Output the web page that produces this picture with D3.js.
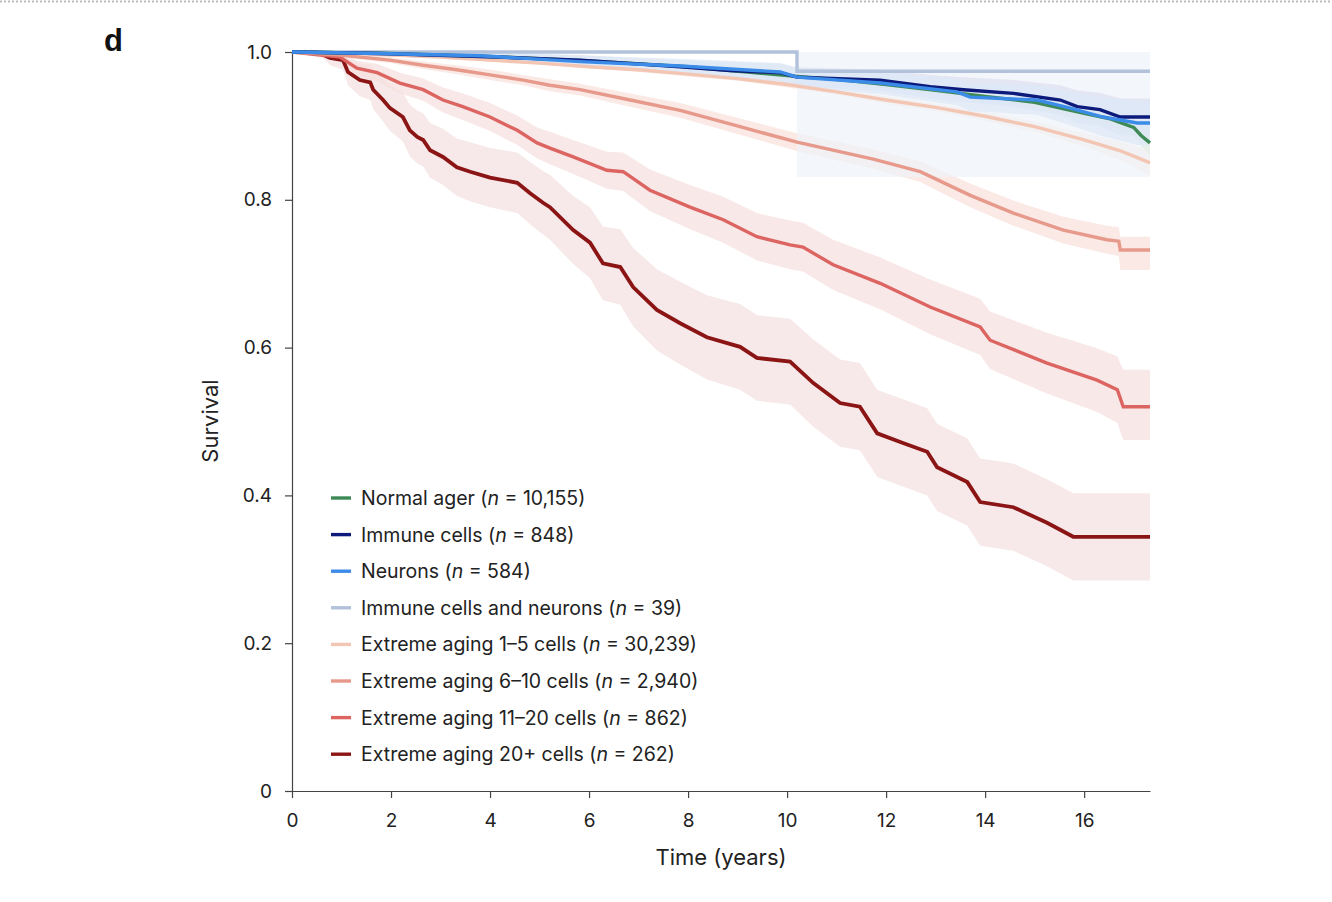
<!DOCTYPE html>
<html>
<head>
<meta charset="utf-8">
<script src="https://cdn.jsdelivr.net/npm/d3@7"></script>
<style>
  body { margin: 0; background: #fff; }
  svg { display: block; font-family: "Inter", "Open Sans", sans-serif; }
</style>
</head>
<body>
<svg id="chart" width="1332" height="902"></svg>
<script>
const FRAME_WIDTH = 1332;
const FRAME_HEIGHT = 902;
const PLOT = {left: 292, right: 1150, top: 52, bottom: 791};

// rows: [time (years), survival, lower CI, upper CI]
const NORMAL = [
  [0, 1, 1, 1], [2, 0.998, 0.997, 0.999], [4, 0.994, 0.992, 0.996], [6, 0.988, 0.986, 0.990],
  [8, 0.980, 0.977, 0.983], [10, 0.968, 0.964, 0.972], [11, 0.963, 0.959, 0.967],
  [12, 0.956, 0.951, 0.961], [13, 0.948, 0.943, 0.953], [14, 0.940, 0.934, 0.946],
  [15, 0.932, 0.925, 0.939], [16, 0.917, 0.908, 0.926], [16.5, 0.910, 0.900, 0.920],
  [17.0, 0.898, 0.886, 0.910], [17.15, 0.887, 0.873, 0.901], [17.33, 0.877, 0.861, 0.893]
];
const IMMUNE = [
  [0, 1, 1, 1], [1.78, 0.998, 0.995, 1], [3.80, 0.994, 0.989, 0.999], [5.82, 0.989, 0.982, 0.996],
  [7.84, 0.980, 0.971, 0.989], [8.85, 0.975, 0.964, 0.986], [9.86, 0.972, 0.960, 0.984],
  [10.20, 0.966, 0.953, 0.979], [11.88, 0.962, 0.948, 0.976], [12.89, 0.953, 0.937, 0.969],
  [13.56, 0.949, 0.932, 0.966], [14.57, 0.944, 0.926, 0.962], [15.52, 0.935, 0.915, 0.955],
  [15.86, 0.926, 0.904, 0.948], [16.32, 0.922, 0.899, 0.945], [16.73, 0.912, 0.887, 0.937],
  [17.33, 0.912, 0.887, 0.937]
];
const NEURONS = [
  [0, 1, 1, 1], [1.78, 0.998, 0.995, 1], [3.80, 0.995, 0.990, 1], [5.82, 0.987, 0.979, 0.995],
  [7.84, 0.981, 0.971, 0.991], [9.86, 0.973, 0.961, 0.985], [10.20, 0.966, 0.953, 0.979],
  [11.88, 0.958, 0.943, 0.973], [13.43, 0.946, 0.928, 0.964], [13.70, 0.939, 0.920, 0.958],
  [15.05, 0.935, 0.915, 0.955], [15.72, 0.924, 0.901, 0.947], [16.38, 0.912, 0.886, 0.938],
  [16.73, 0.908, 0.880, 0.936], [17.07, 0.904, 0.874, 0.934], [17.33, 0.904, 0.874, 0.934]
];
const BOTH = [
  [0, 1, 1, 1], [10.20, 0.974, 0.831, 1], [17.33, 0.974, 0.831, 1]
];
const EXT_1_5 = [
  [0, 1, 1, 1], [1, 0.999, 0.998, 1], [2, 0.996, 0.995, 0.997], [3, 0.993, 0.991, 0.995],
  [4, 0.989, 0.987, 0.991], [5, 0.985, 0.983, 0.987], [6, 0.980, 0.978, 0.982],
  [7, 0.976, 0.973, 0.979], [8, 0.970, 0.967, 0.973], [9, 0.964, 0.961, 0.967],
  [10, 0.956, 0.952, 0.960], [11, 0.946, 0.942, 0.950], [12, 0.935, 0.930, 0.940],
  [13, 0.925, 0.920, 0.930], [14, 0.913, 0.907, 0.919], [15, 0.899, 0.892, 0.906],
  [16, 0.881, 0.872, 0.890], [16.7, 0.867, 0.855, 0.879], [17.0, 0.859, 0.845, 0.873],
  [17.33, 0.850, 0.832, 0.866]
];
const EXT_6_10 = [
  [0, 1, 1, 1], [0.97, 0.996, 0.993, 0.999], [1.98, 0.989, 0.985, 0.993], [2.65, 0.982, 0.977, 0.987],
  [3.33, 0.976, 0.970, 0.982], [4.00, 0.969, 0.962, 0.976], [4.67, 0.962, 0.955, 0.969],
  [5.21, 0.955, 0.947, 0.963], [5.82, 0.949, 0.941, 0.957], [6.83, 0.935, 0.926, 0.944],
  [7.84, 0.921, 0.911, 0.931], [9.05, 0.899, 0.888, 0.910], [10.20, 0.878, 0.866, 0.890],
  [11.74, 0.855, 0.842, 0.868], [12.69, 0.838, 0.824, 0.852], [13.70, 0.806, 0.790, 0.822],
  [14.57, 0.782, 0.765, 0.799], [15.58, 0.759, 0.741, 0.777], [16.46, 0.746, 0.727, 0.765],
  [16.70, 0.744, 0.724, 0.763], [16.73, 0.732, 0.705, 0.750], [17.33, 0.732, 0.705, 0.750]
];
const EXT_11_20 = [
  [0, 1, 1, 1], [0.97, 0.993, 0.987, 0.999], [1.31, 0.978, 0.968, 0.988], [1.72, 0.972, 0.960, 0.984],
  [2.18, 0.958, 0.944, 0.972], [2.65, 0.949, 0.934, 0.964], [3.05, 0.935, 0.918, 0.952],
  [3.45, 0.926, 0.908, 0.944], [4.00, 0.912, 0.893, 0.931], [4.55, 0.894, 0.874, 0.914],
  [4.95, 0.877, 0.856, 0.898], [5.21, 0.870, 0.848, 0.892], [5.68, 0.858, 0.835, 0.881],
  [6.36, 0.840, 0.815, 0.865], [6.69, 0.838, 0.812, 0.864], [7.23, 0.813, 0.785, 0.841],
  [8.04, 0.790, 0.760, 0.820], [8.71, 0.773, 0.742, 0.804], [9.39, 0.750, 0.718, 0.782],
  [10.06, 0.739, 0.706, 0.772], [10.32, 0.736, 0.703, 0.769], [10.93, 0.712, 0.678, 0.746],
  [11.88, 0.687, 0.652, 0.722], [12.89, 0.655, 0.618, 0.692], [13.90, 0.628, 0.590, 0.666],
  [14.10, 0.610, 0.571, 0.649], [15.25, 0.579, 0.538, 0.620], [16.26, 0.556, 0.513, 0.599],
  [16.67, 0.543, 0.498, 0.588], [16.79, 0.520, 0.475, 0.570], [17.33, 0.520, 0.475, 0.570]
];
const EXT_20 = [
  [0, 1, 1, 1], [0.51, 1, 1, 1], [0.77, 0.992, 0.982, 1], [1.03, 0.989, 0.976, 1],
  [1.13, 0.973, 0.955, 0.991], [1.37, 0.962, 0.940, 0.984], [1.58, 0.959, 0.935, 0.983],
  [1.64, 0.949, 0.923, 0.975], [1.84, 0.935, 0.906, 0.964], [1.98, 0.924, 0.893, 0.955],
  [2.24, 0.912, 0.879, 0.945], [2.38, 0.894, 0.859, 0.929], [2.53, 0.885, 0.849, 0.921],
  [2.65, 0.881, 0.845, 0.917], [2.79, 0.867, 0.830, 0.904], [3.05, 0.858, 0.820, 0.896],
  [3.33, 0.844, 0.805, 0.883], [3.60, 0.838, 0.798, 0.878], [4.00, 0.830, 0.790, 0.870],
  [4.55, 0.823, 0.782, 0.864], [4.81, 0.809, 0.767, 0.851], [5.07, 0.796, 0.753, 0.839],
  [5.21, 0.790, 0.746, 0.834], [5.68, 0.759, 0.713, 0.805], [6.02, 0.742, 0.694, 0.790],
  [6.28, 0.714, 0.664, 0.764], [6.63, 0.709, 0.658, 0.760], [6.89, 0.682, 0.629, 0.735],
  [7.37, 0.651, 0.596, 0.706], [7.84, 0.633, 0.577, 0.689], [8.38, 0.614, 0.557, 0.671],
  [9.05, 0.601, 0.543, 0.659], [9.39, 0.586, 0.528, 0.644], [10.06, 0.581, 0.523, 0.639],
  [10.53, 0.552, 0.493, 0.611], [11.07, 0.525, 0.466, 0.584], [11.47, 0.520, 0.461, 0.579],
  [11.82, 0.484, 0.425, 0.543], [12.34, 0.471, 0.412, 0.530], [12.83, 0.459, 0.400, 0.518],
  [13.03, 0.438, 0.379, 0.497], [13.64, 0.418, 0.359, 0.477], [13.90, 0.391, 0.332, 0.450],
  [14.57, 0.384, 0.325, 0.443], [15.25, 0.363, 0.304, 0.422], [15.78, 0.344, 0.285, 0.403],
  [17.33, 0.344, 0.285, 0.403]
];

const SERIES_NAMES = ["Normal ager", "Immune cells", "Neurons", "Immune cells and neurons",
  "Extreme aging 1\u20135 cells", "Extreme aging 6\u201310 cells",
  "Extreme aging 11\u201320 cells", "Extreme aging 20+ cells"];
const SERIES_N = ["10,155", "848", "584", "39", "30,239", "2,940", "862", "262"];
const SERIES_DATA = [NORMAL, IMMUNE, NEURONS, BOTH, EXT_1_5, EXT_6_10, EXT_11_20, EXT_20];
const SERIES_COLORS = ["#3e8a56", "#0c1a7c", "#3b8be8", "#b2c2da",
  "#f3c6b4", "#e79a8b", "#dc6461", "#8b1515"];
const BAND_COLORS = ["#e0ede3", "#dde0f0", "#dde8f7", "#eef2f8",
  "#fae6de", "#f8dfda", "#f7dede", "#f4dfdf"];
// only the flat-then-drop curve keeps hard steps; the rest follow the read points
const STEPPED = [false, false, false, true, false, false, false, false];
const DRAW_ORDER = [7, 6, 5, 4, 3, 0, 1, 2];

const X_TICKS = [0, 2, 4, 6, 8, 10, 12, 14, 16];
const Y_TICKS = [0, 0.2, 0.4, 0.6, 0.8, 1.0];

const SVG = d3.select("#chart");

SVG.append("rect")
    .attr("width", FRAME_WIDTH)
    .attr("height", FRAME_HEIGHT)
    .attr("fill", "#fff");

// dotted rule along the top edge
SVG.append("line")
    .attr("x1", 0).attr("x2", FRAME_WIDTH)
    .attr("y1", 1.5).attr("y2", 1.5)
    .attr("stroke", "#bbb")
    .attr("stroke-width", 2)
    .attr("stroke-dasharray", "2,2");

const X_SCALE = d3.scaleLinear()
                  .domain([0, 17.33])
                  .range([PLOT.left, PLOT.right]);

const Y_SCALE = d3.scaleLinear()
                  .domain([0, 1])
                  .range([PLOT.bottom, PLOT.top]);

function curveFor(i) { return STEPPED[i] ? d3.curveStepAfter : d3.curveLinear; }

// confidence bands
DRAW_ORDER.forEach((i) => {
  const band = d3.area()
      .x((d) => X_SCALE(d[0]))
      .y0((d) => Y_SCALE(d[2]))
      .y1((d) => Y_SCALE(d[3]))
      .curve(curveFor(i));
  SVG.append("path")
      .datum(SERIES_DATA[i])
      .attr("d", band)
      .attr("fill", BAND_COLORS[i])
      .attr("fill-opacity", 0.7);
});

// axes
const xAxis = SVG.append("g")
    .attr("transform", "translate(0," + PLOT.bottom + ")")
    .call(d3.axisBottom(X_SCALE).tickValues(X_TICKS).tickSize(7).tickSizeOuter(0).tickPadding(16));

const yAxis = SVG.append("g")
    .attr("transform", "translate(" + PLOT.left + ",0)")
    .call(d3.axisLeft(Y_SCALE).tickValues(Y_TICKS).tickSize(7).tickSizeOuter(0).tickPadding(13)
      .tickFormat((d) => d === 0 ? "0" : d3.format(".1f")(d)));

[xAxis, yAxis].forEach((g) => {
  g.selectAll("path, line").attr("stroke", "#444").attr("stroke-width", 1.2);
  g.selectAll("text").attr("fill", "#222").attr("font-size", "19px")
    .attr("font-family", "Inter, 'Open Sans', sans-serif");
});

// survival lines
DRAW_ORDER.forEach((i) => {
  const line = d3.line()
      .x((d) => X_SCALE(d[0]))
      .y((d) => Y_SCALE(d[1]))
      .curve(curveFor(i));
  SVG.append("path")
      .datum(SERIES_DATA[i])
      .attr("d", line)
      .attr("fill", "none")
      .attr("stroke", SERIES_COLORS[i])
      .attr("stroke-width", i === 7 ? 3.8 : 3.4)
      .attr("stroke-linejoin", "miter");
});

// axis titles
SVG.append("text")
    .attr("x", 721)
    .attr("y", 865)
    .attr("text-anchor", "middle")
    .attr("font-size", "22px")
    .attr("fill", "#222")
    .text("Time (years)");

SVG.append("text")
    .attr("transform", "translate(218,421) rotate(-90)")
    .attr("text-anchor", "middle")
    .attr("font-size", "22px")
    .attr("fill", "#222")
    .text("Survival");

// panel letter
SVG.append("text")
    .attr("x", 104)
    .attr("y", 51)
    .attr("font-family", "'Liberation Sans', Arial, sans-serif")
    .attr("font-weight", "bold")
    .attr("font-size", "31px")
    .attr("fill", "#111")
    .text("d");

// legend
const LEGEND = SVG.append("g");
SERIES_NAMES.forEach((name, i) => {
  const yy = 498 + i * 36.6;
  LEGEND.append("line")
      .attr("x1", 331).attr("x2", 351)
      .attr("y1", yy).attr("y2", yy)
      .attr("stroke", SERIES_COLORS[i])
      .attr("stroke-width", 3.4);
  const t = LEGEND.append("text")
      .attr("x", 361)
      .attr("y", yy + 7)
      .attr("font-size", "19.5px")
      .attr("fill", "#222");
  t.append("tspan").text(name + " (");
  t.append("tspan").attr("font-style", "italic").text("n");
  t.append("tspan").text(" = " + SERIES_N[i] + ")");
});
</script>
</body>
</html>
